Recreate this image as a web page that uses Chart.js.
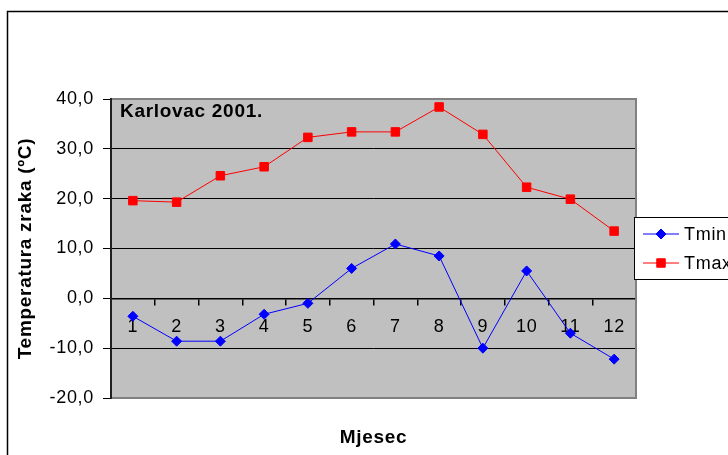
<!DOCTYPE html>
<html>
<head>
<meta charset="utf-8">
<script src="https://cdn.jsdelivr.net/npm/chart.js@4/dist/chart.umd.min.js"></script>
<style>
  html, body { margin: 0; padding: 0; background: #fff; }
</style>
</head>
<body>
<canvas id="chart" width="728" height="455"></canvas>
<script>
// months 1..12
const months = ['1', '2', '3', '4', '5', '6', '7', '8', '9', '10', '11', '12'];
const tmin = [-3.6, -8.6, -8.6, -3.2, -1.0, 6.0, 10.9, 8.5, -10.0, 5.5, -7.0, -12.2];
const tmax = [19.6, 19.3, 24.6, 26.4, 32.3, 33.4, 33.4, 38.4, 32.9, 22.3, 19.9, 13.5];
const yMin = -20;
const yMax = 40;
const yStep = 10;
const plotLabel = 'Karlovac 2001.';

const FONT = '"Liberation Sans", Arial, sans-serif';
const SPACING = '0.7px';
Chart.defaults.color = '#000';
Chart.defaults.font.family = FONT;

// gray plot area, outer frame, plot label and legend
const excelLook = {
  id: 'excelLook',
  beforeLayout(chart) {
    chart.ctx.letterSpacing = SPACING;
  },
  beforeDraw(chart) {
    const { ctx, chartArea: a } = chart;
    ctx.letterSpacing = SPACING;
    ctx.save();
    ctx.fillStyle = '#fff';
    ctx.fillRect(0, 0, chart.width, chart.height);
    ctx.strokeStyle = '#000';
    ctx.lineWidth = 1.5;
    ctx.strokeRect(7.5, 11.5, chart.width + 20, chart.height + 20);
    ctx.fillStyle = '#c0c0c0';
    ctx.fillRect(a.left, a.top, a.right - a.left, a.bottom - a.top);
    ctx.restore();
  },
  beforeDatasetsDraw(chart) {
    const { ctx, chartArea: a } = chart;
    ctx.save();
    ctx.strokeStyle = '#808080';
    ctx.lineWidth = 2;
    ctx.strokeRect(a.left, a.top, a.right - a.left, a.bottom - a.top);
    ctx.strokeStyle = '#000';
    ctx.lineWidth = 1.5;
    ctx.beginPath();
    ctx.moveTo(a.left, a.top - 1);
    ctx.lineTo(a.left, a.bottom + 1);
    ctx.stroke();

    ctx.fillStyle = '#000';
    ctx.font = 'bold 19px ' + FONT;
    ctx.textBaseline = 'middle';
    ctx.textAlign = 'left';
    ctx.fillText(plotLabel, a.left + 9, a.top + 13);
    ctx.restore();
  },
  afterDraw(chart) {
    const { ctx } = chart;
    ctx.save();
    ctx.fillStyle = '#fff';
    ctx.strokeStyle = '#000';
    ctx.lineWidth = 1;
    ctx.fillRect(634.5, 217.5, 120, 62);
    ctx.strokeRect(634.5, 217.5, 120, 62);
    chart.data.datasets.forEach((ds, i) => {
      const y = 234 + i * 29;
      ctx.strokeStyle = ds.borderColor;
      ctx.lineWidth = 1;
      ctx.beginPath();
      ctx.moveTo(643, y);
      ctx.lineTo(679, y);
      ctx.stroke();
      ctx.fillStyle = ds.pointBackgroundColor;
      ctx.strokeStyle = ds.pointBorderColor;
      Chart.helpers.drawPoint(ctx, { pointStyle: ds.pointStyle, radius: ds.pointRadius, borderWidth: 1, rotation: 0 }, 661, y);
      ctx.fillStyle = '#000';
      ctx.font = '18px ' + FONT;
      ctx.textBaseline = 'middle';
      ctx.textAlign = 'left';
      ctx.fillText(ds.label, 684, y + 1);
    });
    ctx.restore();
  }
};

new Chart(document.getElementById('chart'), {
  type: 'line',
  data: {
    labels: months,
    datasets: [
      {
        label: 'Tmin',
        data: tmin,
        borderColor: '#0000ff',
        backgroundColor: '#0000ff',
        pointBackgroundColor: '#0000ff',
        pointBorderColor: '#0000ff',
        pointStyle: 'rectRot',
        pointRadius: 5,
        borderWidth: 1,
        tension: 0
      },
      {
        label: 'Tmax',
        data: tmax,
        borderColor: '#ff0000',
        backgroundColor: '#ff0000',
        pointBackgroundColor: '#ff0000',
        pointBorderColor: '#ff0000',
        pointStyle: 'rect',
        pointRadius: 6,
        borderWidth: 1,
        tension: 0
      }
    ]
  },
  options: {
    responsive: false,
    animation: false,
    layout: { padding: { left: 8, top: 99, right: 92, bottom: 0 } },
    plugins: { legend: { display: false }, tooltip: { enabled: false } },
    scales: {
      x: {
        type: 'category',
        position: { y: 0 },
        offset: true,
        grid: { offset: true, drawOnChartArea: false, drawTicks: true, tickLength: 6, tickColor: '#000', lineWidth: 1.5 },
        border: { display: true, color: '#000', width: 1.5 },
        ticks: { font: { size: 18 }, padding: 12, maxRotation: 0, autoSkip: false }
      },
      x2: {
        type: 'category',
        position: 'bottom',
        grid: { display: false, drawTicks: false },
        border: { display: false },
        ticks: { display: false },
        title: { display: true, text: 'Mjesec', font: { size: 19, weight: 'bold' }, padding: { top: 4, bottom: 6 } },
        afterFit(scale) { scale.height = 57; }
      },
      y: {
        min: yMin,
        max: yMax,
        position: 'left',
        grid: {
          color: (c) => (c.tick && (c.tick.value === yMin || c.tick.value === yMax)) ? 'rgba(0,0,0,0)' : '#000',
          lineWidth: 1,
          tickLength: 8,
          tickColor: '#000'
        },
        border: { display: true, color: '#000', width: 1.5 },
        ticks: {
          stepSize: yStep,
          padding: 9,
          font: { size: 18 },
          callback: (v) => v.toFixed(1).replace('.', ',')
        },
        title: { display: true, text: 'Temperatura zraka (ºC)', font: { size: 19, weight: 'bold' }, padding: { top: 6, bottom: 0 } },
        afterFit(scale) { scale.width = 103; }
      }
    }
  },
  plugins: [excelLook]
});
</script>
</body>
</html>
